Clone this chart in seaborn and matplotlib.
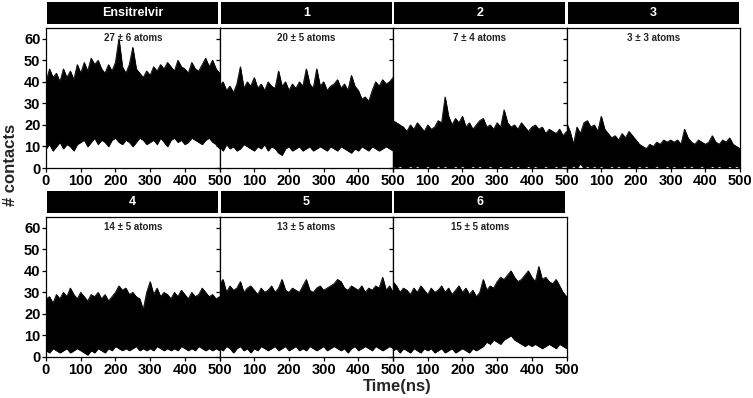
import numpy as np
import pandas as pd
import matplotlib
matplotlib.use('Agg')
import matplotlib.pyplot as plt
import seaborn as sns
from matplotlib.patches import Rectangle

# ── data: contact envelope (upper / lower) read every 10 ns ──────────────────
panels = ['Ensitrelvir', '1', '2', '3', '4', '5', '6']
notes = ['27 ± 6 atoms', '20 ± 5 atoms', '7 ± 4 atoms', '3 ± 3 atoms',
         '14 ± 5 atoms', '13 ± 5 atoms', '15 ± 5 atoms']
time_ns = np.arange(0, 501, 10)

hi_ens = [40, 46, 42, 44, 40, 46, 42, 45, 41, 48, 44, 49, 45, 51, 48, 50, 46, 44, 48, 45,
          49, 60, 47, 44, 48, 56, 46, 44, 42, 45, 43, 47, 45, 48, 46, 49, 47, 45, 50, 47,
          46, 44, 49, 46, 45, 48, 51, 47, 50, 46, 44]
lo_ens = [9, 11, 8, 10, 12, 9, 11, 10, 8, 11, 12, 13, 10, 12, 14, 11, 13, 12, 10, 13,
          14, 12, 11, 13, 12, 10, 12, 14, 13, 11, 12, 13, 11, 14, 12, 10, 13, 14, 12, 13,
          11, 12, 14, 13, 12, 11, 13, 14, 12, 11, 9]
hi_1 = [38, 40, 36, 38, 35, 39, 47, 37, 40, 38, 42, 37, 39, 36, 40, 38, 37, 45, 38, 40,
        36, 39, 37, 40, 38, 46, 39, 37, 46, 38, 40, 36, 38, 39, 41, 37, 39, 36, 43, 38,
        36, 32, 33, 31, 36, 40, 38, 41, 39, 40, 42]
lo_1 = [10, 8, 11, 9, 10, 8, 9, 11, 10, 9, 8, 10, 9, 11, 8, 10, 9, 7, 6, 9,
        10, 8, 9, 10, 8, 9, 10, 8, 9, 10, 9, 8, 10, 9, 8, 10, 9, 8, 7, 9,
        8, 10, 9, 8, 10, 9, 8, 9, 10, 9, 8]
hi_2 = [22, 21, 20, 19, 17, 20, 18, 21, 19, 17, 20, 18, 19, 22, 21, 33, 24, 20, 23, 21,
        24, 19, 21, 18, 20, 22, 23, 19, 20, 18, 21, 19, 27, 21, 19, 20, 18, 21, 19, 17,
        19, 20, 18, 19, 16, 18, 17, 16, 18, 15, 17]
lo_2 = [1, 0, 1, 0, 0, 1, 0, 1, 0, 0, 1, 0, 0, 1, 0, 1, 0, 0, 1, 0,
        1, 0, 0, 1, 0, 1, 0, 0, 1, 0, 0, 1, 0, 0, 1, 0, 1, 0, 0, 1,
        0, 1, 0, 0, 1, 0, 0, 1, 0, 1, 1]
hi_3 = [21, 17, 11, 19, 16, 21, 22, 19, 20, 17, 24, 18, 16, 14, 15, 13, 16, 14, 17, 15,
        13, 11, 10, 9, 11, 10, 12, 11, 13, 12, 13, 12, 13, 11, 18, 14, 12, 11, 13, 12,
        11, 12, 15, 12, 11, 13, 12, 14, 11, 10, 9]
lo_3 = [1, 0, 1, 0, 2, 0, 1, 0, 1, 0, 1, 0, 0, 1, 0, 1, 0, 0, 1, 0,
        0, 1, 0, 1, 0, 0, 1, 0, 0, 1, 0, 1, 0, 0, 1, 0, 1, 0, 0, 1,
        0, 0, 1, 0, 1, 0, 0, 1, 0, 1, 0]
hi_4 = [27, 28, 25, 29, 27, 30, 28, 32, 29, 27, 30, 28, 26, 29, 28, 30, 27, 29, 26, 28,
        30, 33, 31, 32, 29, 30, 28, 27, 22, 30, 35, 29, 32, 28, 30, 29, 27, 30, 28, 31,
        29, 27, 30, 28, 29, 32, 30, 28, 29, 27, 28]
lo_4 = [3, 2, 4, 3, 2, 3, 4, 2, 3, 4, 3, 2, 1, 3, 2, 4, 3, 2, 4, 3,
        5, 4, 3, 4, 3, 4, 5, 3, 4, 3, 4, 3, 5, 4, 3, 4, 3, 4, 3, 5,
        4, 3, 4, 3, 5, 4, 3, 4, 3, 4, 3]
hi_5 = [34, 36, 30, 33, 31, 32, 35, 30, 32, 33, 31, 29, 32, 30, 31, 33, 30, 32, 36, 31,
        30, 32, 31, 30, 33, 36, 31, 30, 32, 33, 31, 32, 33, 34, 36, 35, 32, 31, 33, 32,
        31, 33, 30, 32, 31, 33, 32, 37, 31, 33, 30]
lo_5 = [4, 3, 5, 4, 2, 4, 5, 3, 4, 2, 4, 3, 5, 4, 3, 4, 5, 3, 4, 5,
        3, 4, 5, 3, 4, 3, 5, 4, 3, 4, 5, 3, 4, 5, 4, 3, 4, 2, 4, 5,
        3, 4, 5, 4, 3, 5, 4, 3, 4, 5, 4]
hi_6 = [35, 33, 30, 32, 31, 29, 32, 30, 33, 31, 29, 32, 30, 31, 33, 30, 32, 29, 31, 33,
        30, 32, 29, 31, 28, 30, 36, 31, 33, 32, 35, 37, 36, 38, 40, 37, 35, 36, 38, 40,
        37, 35, 42, 36, 37, 35, 34, 36, 33, 30, 28]
lo_6 = [3, 4, 2, 4, 3, 2, 4, 3, 2, 4, 3, 4, 2, 3, 4, 2, 3, 4, 2, 3,
        4, 3, 2, 4, 3, 4, 5, 7, 6, 8, 7, 6, 8, 9, 10, 8, 7, 6, 5, 6,
        5, 6, 5, 4, 5, 6, 5, 4, 6, 5, 4]

his = [hi_ens, hi_1, hi_2, hi_3, hi_4, hi_5, hi_6]
los = [lo_ens, lo_1, lo_2, lo_3, lo_4, lo_5, lo_6]

df = pd.concat([pd.DataFrame({'panel': p, 'time': time_ns, 'hi': h, 'lo': l})
                for p, h, l in zip(panels, his, los)], ignore_index=True)

# ── style ────────────────────────────────────────────────────────────────────
sns.set_theme(style='ticks')
plt.rcParams['font.family'] = ['Liberation Sans', 'DejaVu Sans']
plt.rcParams['font.weight'] = 'bold'
plt.rcParams['axes.linewidth'] = 0.9
plt.rcParams['axes.edgecolor'] = 'black'

def band(data, color=None, **kws):
    ax = plt.gca()
    ax.fill_between(data['time'], data['lo'], data['hi'], color='black', lw=0.5)
    ax.plot(data['time'], data['hi'], color='black', lw=0.6)
    ax.plot(data['time'], data['lo'], color='black', lw=0.6)

g = sns.FacetGrid(df, col='panel', col_order=panels, col_wrap=4,
                  sharex=False, sharey=False, height=1.4, aspect=1.24)
g.map_dataframe(band)
g.set_titles('')
g.set_axis_labels('', '')

fig = g.figure
fig.set_size_inches(7.53, 3.98)
fig.subplots_adjust(left=46/753, right=740/753, top=1-28/398, bottom=1-357/398,
                    wspace=0, hspace=0.35)

for i, ax in enumerate(g.axes.flat):
    ax.set_xlim(0, 500); ax.set_ylim(0, 65)
    ax.set_xticks(range(0, 501, 100))
    ax.set_yticks(range(0, 61, 10))
    xl = [str(v) for v in range(0, 501, 100)]
    if i % 4 != 0:
        xl[0] = ''
        ax.tick_params(labelleft=False)
    ax.set_xticklabels(xl)
    ax.tick_params(labelbottom=True, direction='out', length=3, width=0.9,
                   colors='black', labelsize=10.5, pad=1)
    for lab in ax.get_xticklabels() + ax.get_yticklabels():
        lab.set_fontweight('bold')
    for sp in ax.spines.values():
        sp.set_visible(True); sp.set_color('black'); sp.set_linewidth(0.9)
    # black strip title
    ax.add_patch(Rectangle((0.006, 1.03), 0.988, 0.157, transform=ax.transAxes,
                           facecolor='black', edgecolor='none', clip_on=False))
    ax.text(0.5, 1.108, panels[i], transform=ax.transAxes, ha='center', va='center',
            color='white', fontsize=9, fontweight='bold')
    ax.text(250, 60.5, notes[i], ha='center', va='center', fontsize=7,
            fontweight='bold', color='#222222')

fig.text(0.014, 1-165/398, '# contacts', rotation=90, ha='center', va='center',
         fontsize=12, fontweight='bold')
fig.text(397/753, 1-387/398, 'Time(ns)', ha='center', va='center',
         fontsize=12, fontweight='bold')

fig.savefig('out.png', dpi=100, facecolor='white')
